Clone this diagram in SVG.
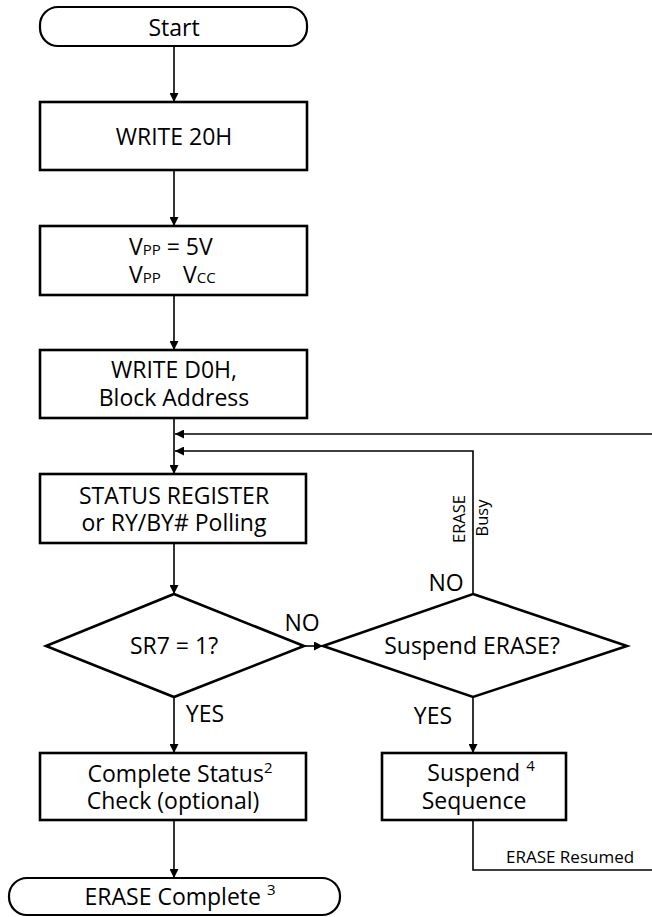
<svg xmlns="http://www.w3.org/2000/svg" width="652" height="917" viewBox="0 0 652 917">
<defs>
<marker id="arr" viewBox="0 0 10 10" refX="10" refY="5" markerWidth="9" markerHeight="9" markerUnits="userSpaceOnUse" orient="auto">
<path d="M0,0 L10,5 L0,10 z" fill="#000"/>
</marker>
</defs>
<style>
.box{fill:#fff;stroke:#000;stroke-width:2.6}
.term{fill:#fff;stroke:#000;stroke-width:2.2}
.conn{fill:none;stroke:#000;stroke-width:1.6}
text{font-family:"Open Sans","Noto Sans","Liberation Sans",sans-serif;fill:#000}
.t{font-size:23px;text-anchor:middle}
.ts{font-size:23px}
.lbl{font-size:23px}
.sm{font-size:16.5px}
.sup{font-size:15px}
.sc{font-size:15px}
</style>
<rect width="652" height="917" fill="#fff"/>
<g id="connectors">
<line class="conn" x1="174" y1="46" x2="174" y2="102" marker-end="url(#arr)"/>
<line class="conn" x1="174" y1="170" x2="174" y2="226" marker-end="url(#arr)"/>
<line class="conn" x1="174" y1="295" x2="174" y2="350" marker-end="url(#arr)"/>
<line class="conn" x1="174" y1="418" x2="174" y2="474" marker-end="url(#arr)"/>
<line class="conn" x1="652" y1="434" x2="175" y2="434" marker-end="url(#arr)"/>
<polyline class="conn" points="473,594 473,451 175,451" marker-end="url(#arr)"/>
<line class="conn" x1="174" y1="543" x2="174" y2="594" marker-end="url(#arr)"/>
<line class="conn" x1="304" y1="646" x2="323" y2="646" marker-end="url(#arr)"/>
<line class="conn" x1="174" y1="697" x2="174" y2="753" marker-end="url(#arr)"/>
<line class="conn" x1="473" y1="697" x2="473" y2="753" marker-end="url(#arr)"/>
<line class="conn" x1="174" y1="820" x2="174" y2="878" marker-end="url(#arr)"/>
<polyline class="conn" points="473,820 473,870 652,870"/>
<text class="sm" transform="translate(465,519) rotate(-90)" text-anchor="middle">ERASE</text>
<text class="sm" transform="translate(488,518) rotate(-90)" text-anchor="middle">Busy</text>
<text class="lbl" x="446" y="591" text-anchor="middle">NO</text>
<text class="lbl" x="302" y="631" text-anchor="middle">NO</text>
<text class="lbl" x="205" y="722" text-anchor="middle">YES</text>
<text class="lbl" x="433" y="724" text-anchor="middle">YES</text>
<text style="font-size:17px" x="506" y="863">ERASE Resumed</text>
</g>
<g id="start">
<rect class="term" x="40" y="7" width="267" height="39" rx="18"/>
<text class="t" x="174" y="36">Start</text>
</g>
<g id="write20h">
<rect class="box" x="40" y="102" width="267" height="68"/>
<text class="t" x="174" y="145">WRITE 20H</text>
</g>
<g id="vpp">
<rect class="box" x="40" y="226" width="267" height="69"/>
<text class="ts" x="129" y="255">V<tspan class="sc">PP</tspan> = 5V</text>
<text class="ts" x="129" y="283">V<tspan class="sc">PP</tspan><tspan x="183">V</tspan><tspan class="sc">CC</tspan></text>
</g>
<g id="writed0h">
<rect class="box" x="40" y="350" width="267" height="68"/>
<text class="t" x="174" y="378">WRITE D0H,</text>
<text class="t" x="174" y="406">Block Address</text>
</g>
<g id="status">
<rect class="box" x="40" y="474" width="266" height="69"/>
<text class="t" x="174" y="504">STATUS REGISTER</text>
<text class="t" x="174" y="531">or RY/BY# Polling</text>
</g>
<g id="sr7">
<polygon class="box" points="174,594 304,646 174,697 46,646"/>
<text class="t" x="174" y="654">SR7 = 1?</text>
</g>
<g id="suspend-q">
<polygon class="box" points="473,594 627,646 473,697 323,646"/>
<text class="t" x="472" y="654">Suspend ERASE?</text>
</g>
<g id="complete-status">
<rect class="box" x="40" y="753" width="266" height="67"/>
<text class="t" x="180" y="782">Complete Status<tspan class="sup" dy="-9">2</tspan></text>
<text class="t" x="173" y="809">Check (optional)</text>
</g>
<g id="suspend-seq">
<rect class="box" x="382" y="753" width="184" height="67"/>
<text class="t" x="481" y="781">Suspend <tspan class="sup" dy="-10">4</tspan></text>
<text class="t" x="474" y="809">Sequence</text>
</g>
<g id="erase-complete">
<rect class="term" x="9" y="878" width="331" height="37" rx="18"/>
<text class="t" x="180" y="905">ERASE Complete <tspan class="sup" dy="-10">3</tspan></text>
</g>
</svg>
